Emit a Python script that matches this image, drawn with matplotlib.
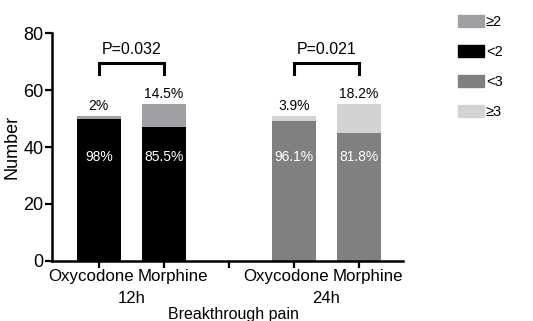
import numpy as np
import matplotlib
matplotlib.use("Agg")
import matplotlib.pyplot as plt
import matplotlib.transforms as mtransforms
from matplotlib.patches import Patch

plt.rcParams['font.family'] = ['Liberation Sans', 'DejaVu Sans']

drugs = ["Oxycodone", "Morphine", "Oxycodone", "Morphine"]
groups = ["12h", "24h"]
low = [50, 47, 49, 45]       # <2 (12h) / <3 (24h)
high = [1, 8, 2, 10]         # >=2 (12h) / >=3 (24h)
low_pct = ["98%", "85.5%", "96.1%", "81.8%"]
high_pct = ["2%", "14.5%", "3.9%", "18.2%"]
p_values = ["P=0.032", "P=0.021"]

c_low = ["#000000", "#000000", "#808080", "#808080"]
c_high = ["#a0a0a4", "#a0a0a4", "#d3d3d3", "#d3d3d3"]

x = np.array([0, 1, 3, 4])

fig = plt.figure(figsize=(5.33, 3.21), dpi=100)
ax = fig.add_axes([0.0976, 0.187, 0.659, 0.71])

ax.bar(x, low, width=0.68, color=c_low)
ax.bar(x, high, width=0.68, bottom=low, color=c_high)

for xi, lo, hi, lp, hp in zip(x, low, high, low_pct, high_pct):
    ax.text(xi, 36.5, lp, ha="center", va="center", color="white", fontsize=10)
    ax.text(xi, lo + hi + 1, hp, ha="center", va="bottom", fontsize=10)

# significance brackets
for (a, b), p in zip([(0, 1), (3, 4)], p_values):
    ax.plot([a, a, b, b], [65.5, 69.5, 69.5, 65.5], color="black", lw=2.2,
            solid_joinstyle="miter", clip_on=False)
    ax.text((a + b) / 2, 71.5, p, ha="center", va="bottom", fontsize=11.5)

ax.set_xlim(-0.72, 4.68)
ax.set_ylim(0, 80)
ax.set_yticks([0, 20, 40, 60, 80])
ax.set_xticks([0, 1, 2, 3, 4])
ax.set_xticklabels([])

# drug names sit slightly apart from their ticks, like the original
xt = ax.get_xaxis_transform()
for i, (xi, d) in enumerate(zip(x, drugs)):
    dx = -8 if i % 2 == 0 else 9
    tr = mtransforms.offset_copy(xt, fig=fig, x=dx, y=0, units="dots")
    ax.text(xi, -0.068, d, transform=tr, ha="center", va="center", fontsize=12.2)
for xm, g in zip([0.5, 3.5], groups):
    ax.text(xm, -0.165, g, transform=xt, ha="center", va="center", fontsize=12)
fig.text(233 / 533, 1 - 307 / 321, "Breakthrough pain", ha="center", va="top",
         fontsize=11.5)
ax.set_ylabel("Number", fontsize=13, labelpad=2)
ax.tick_params(axis="y", labelsize=13, width=1.6, length=5, pad=1)
ax.tick_params(axis="x", width=1.6, length=5, pad=3)
for s in ["top", "right"]:
    ax.spines[s].set_visible(False)
for s in ["left", "bottom"]:
    ax.spines[s].set_linewidth(1.8)

handles = [Patch(color="#a0a0a4"), Patch(color="#000000"),
           Patch(color="#808080"), Patch(color="#d3d3d3")]
fig.legend(handles, ["\u22652", "<2", "<3", "\u22653"], loc="upper left",
           bbox_to_anchor=(0.835, 0.995), frameon=False, fontsize=10.5,
           handlelength=1.8, handleheight=0.9, handletextpad=0.1,
           labelspacing=1.1)

fig.savefig("out.png", dpi=100)
